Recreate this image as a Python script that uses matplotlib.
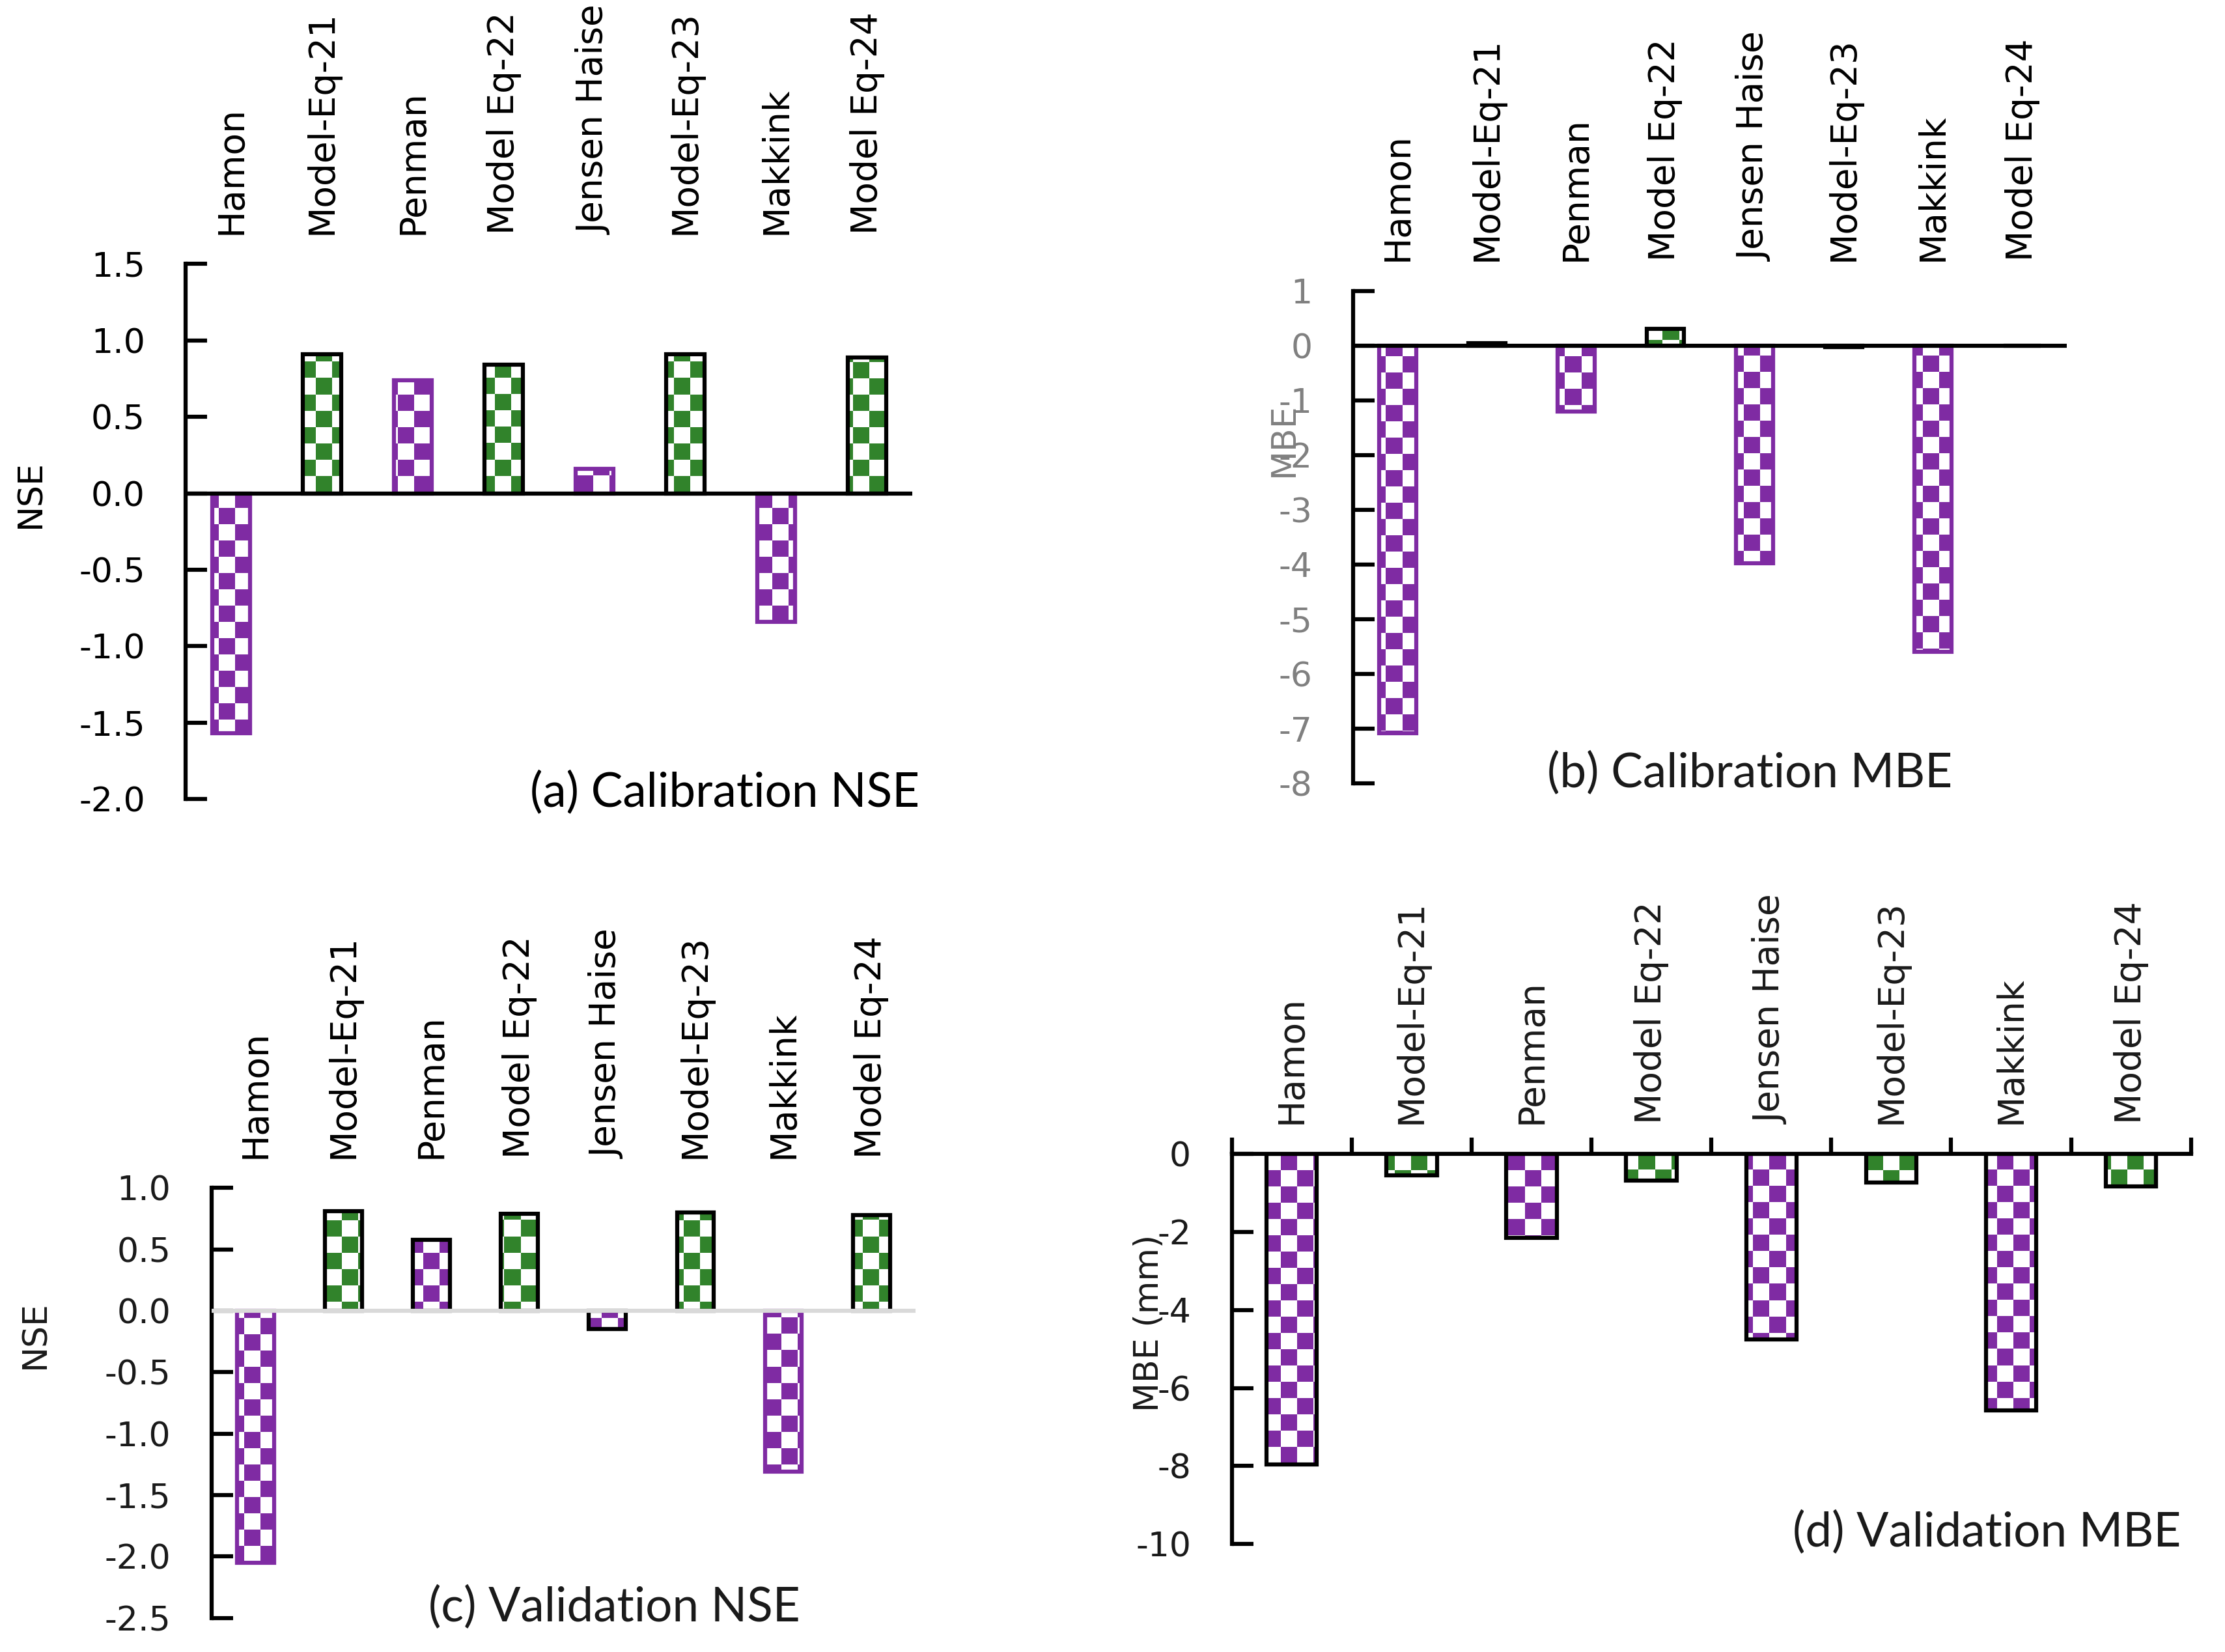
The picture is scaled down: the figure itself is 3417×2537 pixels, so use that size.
import numpy as np
import matplotlib
matplotlib.use("Agg")
import matplotlib.pyplot as plt
from matplotlib.colors import ListedColormap

plt.rcParams['font.family'] = ['DejaVu Sans']
plt.rcParams['axes.unicode_minus'] = False

# data
models = ['Hamon', 'Model-Eq-21', 'Penman', 'Model Eq-22',
          'Jensen Haise', 'Model-Eq-23', 'Makkink', 'Model Eq-24']
nse_cal = [-1.57, 0.91, 0.74, 0.84, 0.16, 0.91, -0.84, 0.89]
mbe_cal = [-7.08, 0.04, -1.20, 0.31, -3.98, -0.03, -5.60, 0.0]
nse_val = [-2.05, 0.81, 0.58, 0.79, -0.15, 0.80, -1.31, 0.78]
mbe_val = [-7.96, -0.55, -2.15, -0.69, -4.76, -0.73, -6.58, -0.84]

PURPLE = '#7f2ba3'
GREEN = '#31832b'
fills = [PURPLE, GREEN] * 4

W, H, DPI = 3417, 2537, 300
CELL = 25  # checker cell size in pixels
CAT_FS = 13.2

fig = plt.figure(figsize=(W / DPI, H / DPI), dpi=DPI)


def checker(ax, bars, colors):
    pos = ax.get_position()
    wpx, hpx = pos.width * W, pos.height * H
    nx, ny = int(np.ceil(wpx / CELL)), int(np.ceil(hpx / CELL))
    grid = np.indices((ny, nx)).sum(axis=0) % 2
    for b, c in zip(bars, colors):
        im = ax.imshow(grid, cmap=ListedColormap(['white', c]), vmin=0, vmax=1,
                       interpolation='nearest', aspect='auto',
                       extent=(0, nx * CELL / wpx, 1 - ny * CELL / hpx, 1),
                       transform=ax.transAxes, zorder=2)
        im.set_clip_path(b)


def panel(rect, vals, ylim, yticks, fmt, edges, zero_col='black',
          tick_col='black', top_ticks=False):
    ax = fig.add_axes(rect)
    x = np.arange(len(models))
    bars = ax.bar(x, vals, width=0.42, facecolor='none', edgecolor=edges,
                  linewidth=1.5, zorder=3)
    checker(ax, bars, fills)
    ax.set_xlim(-0.5, len(models) - 0.5)
    ax.set_ylim(*ylim)
    for s in ['right', 'bottom', 'top']:
        ax.spines[s].set_visible(False)
    ax.spines['left'].set_linewidth(1.5)
    ax.set_yticks(yticks)
    ax.set_yticklabels([fmt % v for v in yticks])
    ax.tick_params(axis='y', direction='in', length=8, width=1.5, pad=15,
                   labelsize=12.5, labelcolor=tick_col)
    ax.xaxis.tick_top()
    if top_ticks:
        ax.spines['top'].set_visible(True)
        ax.spines['top'].set_linewidth(1.5)
        ax.set_xticks(np.arange(-0.5, len(models), 1))
        ax.set_xticklabels([])
        ax.set_xticks(x, minor=True)
        ax.set_xticklabels(models, minor=True, rotation=90)
        ax.tick_params(axis='x', which='major', direction='out', length=6,
                       width=1.5)
        ax.tick_params(axis='x', which='minor', length=0, pad=11,
                       labelsize=CAT_FS, labelcolor='#1a1a1a')
    else:
        ax.set_xticks(x)
        ax.set_xticklabels(models, rotation=90)
        ax.tick_params(axis='x', length=0, pad=11, labelsize=CAT_FS)
        ax.axhline(0, color=zero_col, lw=1.5, zorder=4)
    return ax


k, p = 'black', PURPLE
axa = panel([0.0835, 0.5163, 0.3266, 0.3239], nse_cal, (-2, 1.5),
            np.arange(-2, 1.51, 0.5), '%.1f', [p, k, p, k, p, k, p, k])
axb = panel([0.6081, 0.5258, 0.3208, 0.2981], mbe_cal, (-8, 1),
            np.arange(-8, 2, 1), '%d', [p, k, p, k, p, k, p, k],
            tick_col='#808080')
axc = panel([0.0950, 0.0206, 0.3164, 0.2603], nse_val, (-2.5, 1),
            np.arange(-2.5, 1.01, 0.5), '%.1f', [p, k, k, k, k, k, p, k],
            zero_col='#d9d9d9', tick_col='#1a1a1a')
axd = panel([0.5536, 0.0653, 0.4311, 0.2362], mbe_val, (-10, 0),
            np.arange(-10, 1, 2), '%d', [k] * 8, tick_col='#1a1a1a',
            top_ticks=True)

# axis labels
fig.text(0.014, 0.701, 'NSE', rotation=90, ha='center', va='center', fontsize=12.5)
fig.text(0.016, 0.192, 'NSE', rotation=90, ha='center', va='center',
         fontsize=12.5, color='#1a1a1a')
fig.text(0.577, 0.7337, 'MBE', rotation=90, ha='center', va='center',
         fontsize=12.5, color='#808080')
fig.text(0.5166, 0.1993, 'MBE (mm)', rotation=90, ha='center', va='center',
         fontsize=12.5, color='#1a1a1a')

# panel captions
tkw = dict(ha='center', va='center', fontsize=17.5, family='Lato')
fig.text(0.3256, 0.5198, '(a) Calibration NSE', **tkw)
fig.text(0.7863, 0.5318, '(b) Calibration MBE', color='#1a1a1a', **tkw)
fig.text(0.2761, 0.0266, '(c) Validation NSE', color='#1a1a1a', **tkw)
fig.text(0.8929, 0.0722, '(d) Validation MBE', color='#1a1a1a', **tkw)

fig.savefig('out.png', dpi=DPI)
